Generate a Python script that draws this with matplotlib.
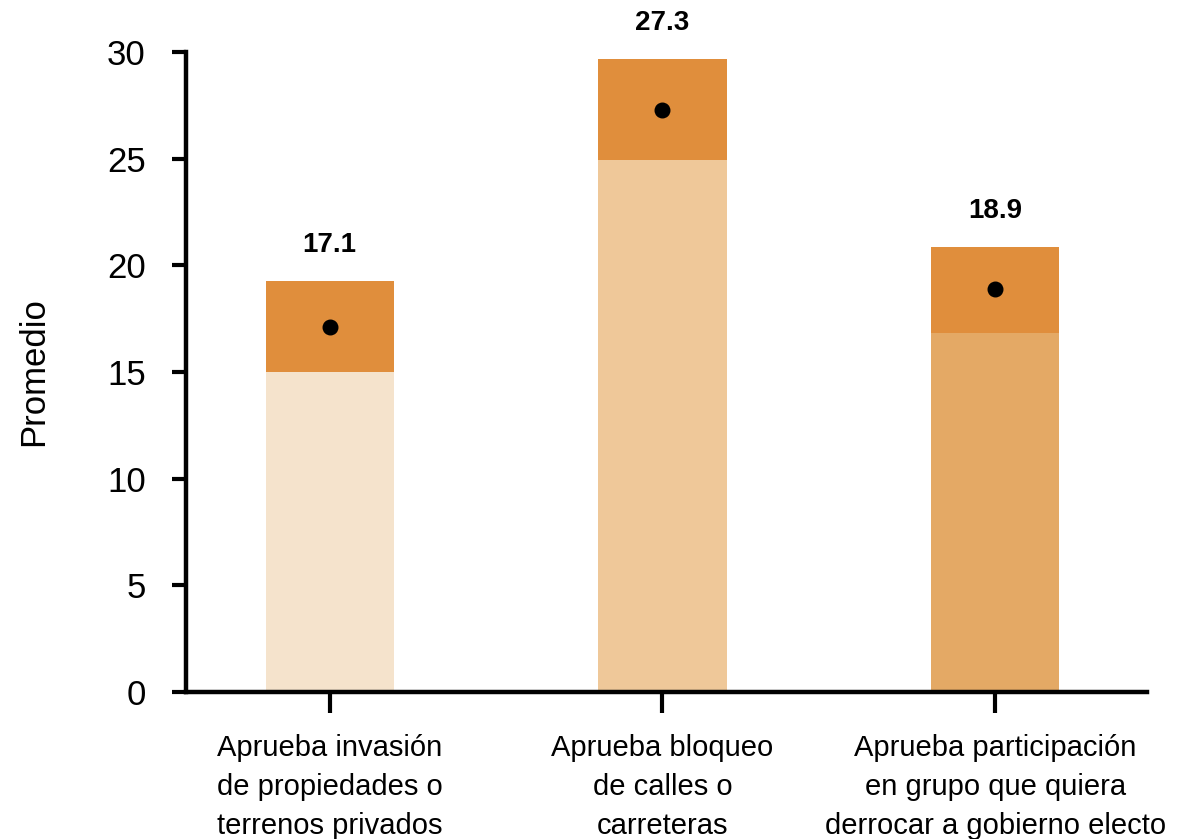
import matplotlib.pyplot as plt

# Data
categories = [
    'Aprueba invasión\nde propiedades o\nterrenos privados',
    'Aprueba bloqueo\nde calles o\ncarreteras',
    'Aprueba participación\nen grupo que quiera\nderrocar a gobierno electo',
]
means = [17.1, 27.3, 18.9]
ci_low = [15.0, 24.95, 16.85]
ci_high = [19.25, 29.65, 20.85]
value_labels = ['17.1', '27.3', '18.9']

base_colors = ['#F5E3CC', '#EFC899', '#E4A965']
ci_color = '#E08E3C'

plt.rcParams['font.family'] = ['Liberation Sans', 'DejaVu Sans']

fig = plt.figure(figsize=(11.96, 8.39), dpi=100)
ax = fig.add_axes([0.1555, 0.1752, 0.8035, 0.7628])

x = list(range(len(categories)))
width = 0.385

# Lower part of each bar, from zero to the lower bound
ax.bar(x, ci_low, width=width, color=base_colors, edgecolor='none')
# Interval part, from lower to upper bound
heights = [h - l for l, h in zip(ci_low, ci_high)]
ax.bar(x, heights, bottom=ci_low, width=width, color=ci_color, edgecolor='none')

# Mean points
ax.scatter(x, means, s=110, color='black', zorder=3)

# Value labels above bars
for xi, top, lab in zip(x, ci_high, value_labels):
    ax.annotate(lab, (xi, top), xytext=(0, 17), textcoords='offset points',
                ha='center', va='bottom', fontsize=20, fontweight='bold',
                annotation_clip=False)

ax.set_xlim(-0.432, 2.456)
ax.set_ylim(0, 30)
ax.set_yticks([0, 5, 10, 15, 20, 25, 30])
ax.set_xticks(x)
ax.set_xticklabels(categories, fontsize=21, linespacing=1.5)

ax.spines['top'].set_visible(False)
ax.spines['right'].set_visible(False)
ax.spines['left'].set_linewidth(3.2)
ax.spines['bottom'].set_linewidth(3.2)
ax.tick_params(axis='y', length=10, width=3, labelsize=25, pad=19)
ax.tick_params(axis='x', length=15, width=3, pad=15)

ax.set_ylabel('Promedio', fontsize=25)
ax.yaxis.set_label_coords(-0.1415, 0.5)

fig.savefig('out.png', dpi=100)
